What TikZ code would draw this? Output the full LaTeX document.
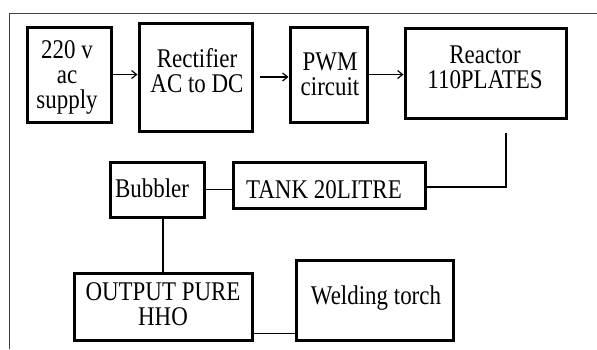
\documentclass[tikz,border=0pt]{standalone}
\usepackage{fontspec}
\setmainfont{Liberation Serif}[FakeStretch=0.85]
\usetikzlibrary{arrows.meta}
\tikzset{
  blk/.style={draw=black, line width=3pt, rectangle, inner sep=0pt},
  txt/.style={font=\fontsize{27}{25}\selectfont, align=center, inner sep=0pt, text=black},
  conn/.style={draw=black, line width=1.4pt},
  arr/.style={conn, -{Straight Barb[length=5pt,width=8pt,line width=1.2pt]}},
  frame/.style={draw=black!75, line width=1pt}
}
\begin{document}
\begin{tikzpicture}[x=1pt,y=-1pt]
\useasboundingbox (0,0) rectangle (597,349);
% outer frame
\coordinate (fBL) at (9,349);
\coordinate (fTR) at (597,13);
\draw[frame] (fBL) |- (fTR);
% boxes
\node[blk, minimum width=84pt, minimum height=95pt] (supply) at (69,74.5) {};
\node[txt] (supplyT) at (67,77) {220 v\\ac\\supply};
\node[blk, minimum width=113pt, minimum height=108pt] (rect) at (195.5,77) {};
\node[txt] (rectT) at (197,71) {Rectifier\\AC to DC};
\node[blk, minimum width=77pt, minimum height=95pt] (pwm) at (328.5,74.5) {};
\node[txt] (pwmT) at (330,74) {PWM\\circuit};
\node[blk, minimum width=161pt, minimum height=90pt] (reactor) at (485.5,73) {};
\node[txt] (reactorT) at (485,67) {Reactor\\110PLATES};
\node[blk, minimum width=192pt, minimum height=46pt] (tank) at (329,185) {};
\node[txt] (tankT) at (324,190) {TANK 20LITRE};
\node[blk, minimum width=94pt, minimum height=55pt] (bubbler) at (157,189.5) {};
\node[txt] (bubblerT) at (152,188) {Bubbler};
\node[blk, minimum width=178pt, minimum height=67pt] (output) at (163,306.5) {};
\node[txt] (outputT) at (163,304.5) {OUTPUT PURE\\HHO};
\node[blk, minimum width=157pt, minimum height=80pt] (weld) at (374.5,300) {};
\node[txt] (weldT) at (376,298) {Welding torch};
% connectors
\draw[arr] (supply.east) -- (supply.east -| rect.west);
\draw[arr, shorten <=6pt] (rect.east) -- (rect.east -| pwm.west);
\draw[arr] (pwm.east) -- (pwm.east -| reactor.west);
\draw[conn] ([xshift=20.5pt,yshift=-13pt]reactor.south) |- ([yshift=-2pt]tank.east);
\draw[conn] (bubbler.east) -- (bubbler.east -| tank.west);
\draw[conn] (output.north) -- (output.north |- bubbler.south);
\draw[conn] ([yshift=8pt]output.south east) -- ([yshift=8pt]weld.south west);
\end{tikzpicture}
\end{document}
